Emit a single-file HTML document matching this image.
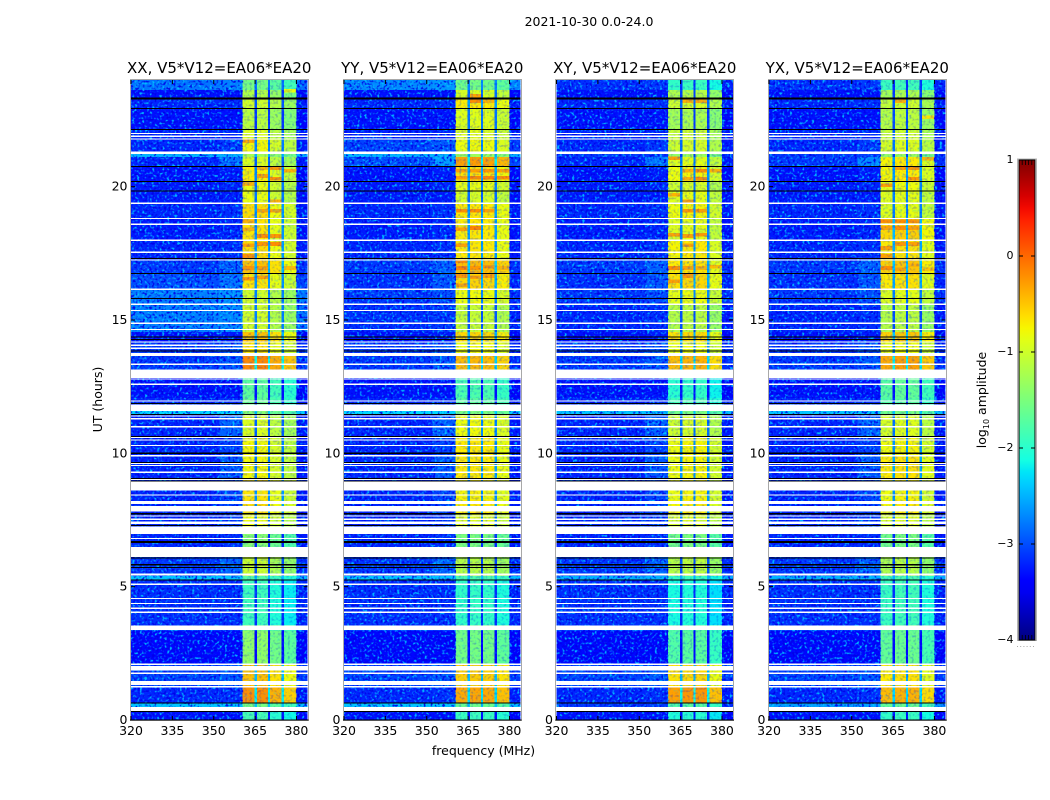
<!DOCTYPE html>
<html>
<head>
<meta charset="utf-8">
<title>2021-10-30 0.0-24.0</title>
<style>
html,body{margin:0;padding:0;background:#fff;width:1050px;height:800px;overflow:hidden}
svg{display:block}
text{font-family:"DejaVu Sans","Liberation Sans",sans-serif;fill:#000}
</style>
</head>
<body>
<svg id="chart" xmlns="http://www.w3.org/2000/svg" width="1050" height="800" viewBox="0 0 1050 800">
  <defs>
    <filter id="speckle-light" x="0" y="0" width="1" height="1">
      <feTurbulence type="fractalNoise" baseFrequency="0.4" numOctaves="1" seed="4"/>
      <feColorMatrix type="matrix" values="0 0 0 0 0  0 0 0 0 0.55  0 0 0 0 1  3.4 3.4 0 0 -3.5"/>
    </filter>
    <filter id="speckle-dark" x="0" y="0" width="1" height="1">
      <feTurbulence type="fractalNoise" baseFrequency="0.42" numOctaves="1" seed="11"/>
      <feColorMatrix type="matrix" values="0 0 0 0 0  0 0 0 0 0  0 0 0 0 0.8  3.4 3.4 0 0 -3.4"/>
    </filter>
    <linearGradient id="jet-gradient" x1="0" y1="1" x2="0" y2="0"></linearGradient>
  </defs>
  <text x="589" y="26" font-size="12.5" text-anchor="middle">2021-10-30 0.0-24.0</text>
  <text x="483.5" y="755" font-size="12.5" text-anchor="middle">frequency (MHz)</text>
  <text x="0" y="0" font-size="12.5" text-anchor="middle" transform="translate(102,399.5) rotate(-90)">UT (hours)</text>
  <g id="panels"></g>
  <g id="colorbar"></g>
</svg>
<script>
// ---- data: scan time segments (UT hours) ----
const hourEdges = [0,.34,.49,.64,1.28,2.10,3.34,3.56,5.25,5.40,6.11,6.98,7.73,8.25,9.00,9.94,10.61,11.48,11.59,12.08,13.13,13.65,14.18,14.55,15.60,16.16,16.76,17.25,18.00,18.83,19.39,19.84,20.21,20.78,21.11,21.26,21.79,22.13,22.95,23.29,23.63,24];

// ---- data: log10 amplitude inside the 360-380 MHz band, one per segment ----
const bandXX = [-1.9,-1.6,-1.6,-0.3,-0.55,-1.45,-1.6,-1.95,-1.8,-1.1,-1.5,-0.9,-0.7,-0.75,-0.85,-0.85,-1.0,-1.5,-1.7,-1.75,-0.25,-0.75,-0.55,-1.05,-1.05,-0.75,-0.55,-0.7,-0.75,-0.7,-0.9,-0.9,-0.8,-1.0,-1.3,-0.85,-1.0,-1.2,-1.05,-1.25,-1.6];
const bandYY = [-1.9,-1.6,-1.6,-0.35,-0.55,-1.55,-1.6,-1.95,-1.8,-1.15,-1.5,-0.9,-0.7,-0.75,-0.7,-0.7,-0.8,-1.5,-1.7,-1.8,-0.45,-0.8,-0.6,-1.05,-0.8,-0.6,-0.45,-0.7,-0.7,-0.7,-0.95,-0.85,-0.65,-0.3,-1.3,-0.8,-0.9,-0.9,-0.7,-0.95,-1.55];
const bandXY = [-2.0,-1.7,-1.7,-0.25,-0.6,-1.7,-1.7,-2.05,-1.9,-1.1,-1.5,-0.9,-0.7,-0.75,-0.75,-0.75,-0.95,-1.5,-1.8,-1.95,-0.4,-0.8,-0.6,-1.1,-0.8,-0.6,-0.65,-0.7,-0.85,-0.75,-0.85,-0.95,-0.75,-0.85,-1.3,-0.95,-1.0,-1.2,-0.95,-1.15,-1.9];
const bandYX = [-1.9,-1.6,-1.6,-0.4,-0.65,-1.6,-1.6,-1.85,-1.8,-1.15,-1.5,-0.9,-0.7,-0.75,-0.65,-0.75,-0.9,-1.5,-1.7,-1.65,-0.3,-0.8,-0.5,-1.1,-0.85,-0.65,-0.5,-0.65,-0.55,-0.85,-0.85,-0.8,-0.7,-0.7,-1.3,-0.9,-1.0,-1.1,-1.0,-1.2,-1.85];

// ---- data: log10 amplitude outside the band, one per segment ----
const backgroundXX = [-3.3,-3.1,-2.4,-3.2,-3.05,-3.35,-3.1,-3.15,-2.4,-3.1,-3.2,-3.2,-3.2,-3.2,-3.2,-3.2,-3.2,-2.3,-3.2,-3.3,-3.1,-3.1,-3.3,-2.75,-2.75,-3.0,-3.1,-3.2,-3.25,-3.2,-3.25,-3.25,-3.3,-3.2,-2.5,-3.2,-3.2,-3.3,-3.2,-3.3,-2.8];
const backgroundYY = [-3.3,-3.1,-2.4,-3.2,-3.05,-3.35,-3.1,-3.15,-2.4,-3.1,-3.2,-3.2,-3.2,-3.2,-3.2,-3.2,-3.2,-2.3,-3.2,-3.3,-3.1,-3.1,-3.3,-3.15,-3.1,-3.15,-3.1,-3.2,-3.25,-3.2,-3.25,-3.25,-3.3,-3.0,-2.5,-3.05,-3.2,-3.3,-3.2,-3.3,-2.7];
const backgroundXY = [-3.3,-3.1,-3.1,-3.2,-3.05,-3.35,-3.1,-3.15,-2.5,-3.1,-3.2,-3.2,-3.2,-3.2,-3.2,-3.2,-3.2,-2.4,-3.2,-3.3,-3.1,-3.1,-3.3,-3.2,-3.1,-3.15,-3.1,-3.2,-3.25,-3.2,-3.25,-3.25,-3.3,-3.2,-3.1,-3.2,-3.2,-3.3,-3.2,-3.3,-3.15];
const backgroundYX = [-3.3,-3.1,-2.6,-3.2,-3.05,-3.35,-3.1,-3.15,-2.5,-3.1,-3.2,-3.2,-3.2,-3.2,-3.2,-3.2,-3.2,-2.4,-3.2,-3.3,-3.1,-3.1,-3.3,-3.2,-3.1,-3.15,-3.1,-3.2,-3.25,-3.2,-3.25,-3.25,-3.3,-3.1,-3.1,-3.2,-3.2,-3.3,-3.2,-3.3,-3.15];

// ---- data: extra brightness just below the band (352-360 MHz), one per segment ----
const tailOffset = [0,0,0,.05,.1,0,0,0,0,.2,.05,.1,.15,.15,.25,.15,.3,0,.05,0,.15,.15,.05,.05,.1,.2,.2,.05,.05,.05,0,.05,.05,.4,0,.1,0,0,.05,0,.05];

// ---- data: per sub-band amplitude offsets ----
const subbandOffsetXX = [.08,.08,-.1,-.25];
const subbandOffsetYY = [0,.02,0,-.12];
const subbandOffsetXY = [-.05,0,0,-.22];
const subbandOffsetYX = [-.05,0,0,-.22];

// ---- data: bright streaks inside the sub-bands (panel, sub-band, UT hour, log10 amplitude) ----
const streakPanels = [0,0,0,0,0,0,0,0,0,0,0,0,0,0,0,0,0,0,0,0,0,0,0,0,
  1,1,1,1,1,1,1,1,1,1,1,1,1,1,1,1,1,1,1,1,1,1,1,1,1,1,
  2,2,2,2,2,2,2,2,2,2,2,2,2,2,2,2,2,2,2,2,2,2,
  3,3,3,3,3,3,3,3,3,3,3,3,3,3,3,3,3,3,3,3,3];
const streakSubbands = [0,0,0,0,0,0,0,0,1,1,1,1,1,1,1,2,2,2,2,2,2,3,3,3,
  0,0,0,0,0,0,0,0,0,1,1,1,1,1,1,1,1,2,2,2,2,2,2,3,3,3,
  0,0,0,0,0,1,1,1,1,1,1,1,1,1,2,2,2,2,2,2,3,
  3,
  0,0,0,0,0,0,1,1,1,1,1,1,2,2,2,2,2,2,3,3,3];
const streakHours = [21.7,20.1,18.7,18.4,17.8,17.4,16.95,16.55,20.7,20.4,19.1,18.15,17.85,16.95,16.6,20.7,20.3,19.45,19.1,18.15,17.85,20.6,23.6,16.95,
  20.6,20.33,19.1,18.4,17.8,16.95,17.2,16.65,16.3,23.4,23.2,20.33,20.6,19.1,18.45,16.95,16.6,23.2,20.6,20.33,19.1,17.0,16.65,20.6,20.33,16.95,
  21.07,19.7,18.2,16.95,16.45,23.2,20.6,20.3,19.1,19.45,18.15,17.8,16.95,16.65,23.2,20.6,20.3,19.1,18.2,16.95,20.6,
  17.0,
  20.05,18.7,18.45,17.7,17.4,16.95,23.2,20.7,18.7,18.45,17.85,16.9,20.7,20.3,18.7,18.45,17.85,17.05,21.05,22.6,16.9];
const streakLevels = [-.35,-.4,-.4,-.4,-.3,-.2,-.25,-.25,-.4,-.3,-.3,-.2,-.25,-.3,-.3,-.25,-.25,-.4,-.3,-.25,-.2,-.4,-.8,-.45,
  -.3,-.3,-.2,-.3,-.3,-.15,-.2,-.25,-.3,-.3,-.2,-.15,-.3,-.2,-.15,-.25,-.3,-.4,-.25,-.15,-.3,-.25,-.3,-.3,-.2,-.4,
  -.3,-.4,-.3,-.2,-.3,-.4,-.4,-.4,-.25,-.3,-.3,-.3,-.3,-.25,-.35,-.2,-.2,-.3,-.25,-.4,-.4,
  -.45,
  -.3,-.2,-.3,-.3,-.3,-.2,-.4,-.3,-.2,-.2,-.25,-.3,-.25,-.25,-.25,-.3,-.3,-.4,-.4,-.65,-.5];

// ---- data: frequency channels (MHz) ----
const channelEdges = [320,352,360.5,364.8,365.6,369.6,370.4,374.6,375.4,380,384];
const channelKinds = ['background','tail','subband0','notch','subband1','notch','subband2','notch','subband3','guard'];

// ---- data: flagged scans (UT hours) ----
const flaggedLines = [21.99,21.89,21.79,19.38,18.81,18.59,17.99,17.54,17.25,16.15,15.59,15.36,14.88,14.64,14.18,14.05,13.94,13.34,12.79,12.59,11.96,11.40,11.30,11.00,10.59,10.50,10.29,9.91,9.63,9.54,9.29,9.03,8.44,7.65,7.53,6.81,5.09,4.56,4.37,4.19,4.04,2.09,1.75,1.25];
const flaggedBlockStarts = [21.22,13.65,12.83,11.59,8.60,8.10,7.81,7.35,6.98,6.12,5.41,3.38,1.85,1.31,.34];
const flaggedBlockEnds = [21.31,13.77,13.14,11.84,8.94,8.21,8.03,7.44,7.25,6.48,5.50,3.55,2.03,1.47,.49];
const blackLines = [22.94,22.14,20.76,20.19,19.83,17.30,16.75,15.81,14.37,14.26,13.83,11.86,11.45,10.64,9.66,9.06,8.96,7.29,6.08,5.71,5.25,.63,.31];
const blackBandStarts = [23.26,9.98,7.70,6.64,5.79];
const blackBandEnds = [23.34,10.04,7.77,6.72,5.85];

// ---- data: panels and ticks ----
const panelTitles = ['XX, V5*V12=EA06*EA20','YY, V5*V12=EA06*EA20','XY, V5*V12=EA06*EA20','YX, V5*V12=EA06*EA20'];
const panelBands = [bandXX,bandYY,bandXY,bandYX];
const panelBackgrounds = [backgroundXX,backgroundYY,backgroundXY,backgroundYX];
const panelSubbands = [subbandOffsetXX,subbandOffsetYY,subbandOffsetXY,subbandOffsetYX];
const xTickValues = [320,335,350,365,380];
const yTickValues = [0,5,10,15,20];
const colorbarTicks = [1,0,-1,-2,-3,-4];
const colorbarTickLabels = ['1','0','\u22121','\u22122','\u22123','\u22124'];
const colorbarMinorFractions = [.2,.4,.6,.8];

// ---- data: jet colormap control points ----
const jetRedAt = [0,.35,.66,.89,1];
const jetRedIs = [0,0,1,1,.5];
const jetGreenAt = [0,.125,.375,.64,.91,1];
const jetGreenIs = [0,0,1,1,0,0];
const jetBlueAt = [0,.11,.34,.65,1];
const jetBlueIs = [.5,1,1,0,0];

const SVGNS = 'http://www.w3.org/2000/svg';
const PANEL_LEFTS = [131,344,556.5,769];
const PANEL_WIDTH = 176.5;
const PLOT_TOP = 80, PLOT_BOTTOM = 720;
const FREQ_MIN = 320, FREQ_MAX = 384, HOUR_MAX = 24;
const LOG_MIN = -4, LOG_MAX = 1;
const CB_X = 1019, CB_W = 16, CB_TOP = 160, CB_BOTTOM = 640;
const STREAK_HALF_HOURS = 0.07;

function mk(tag, attrs, parent){
  const el = document.createElementNS(SVGNS, tag);
  for (const k in attrs) el.setAttribute(k, attrs[k]);
  parent.appendChild(el);
  return el;
}
function xScale(panel, f){ return PANEL_LEFTS[panel] + (f - FREQ_MIN) / (FREQ_MAX - FREQ_MIN) * PANEL_WIDTH; }
function yScale(h){ return PLOT_BOTTOM - h / HOUR_MAX * (PLOT_BOTTOM - PLOT_TOP); }
function cbScale(v){ return CB_BOTTOM - (v - LOG_MIN) / (LOG_MAX - LOG_MIN) * (CB_BOTTOM - CB_TOP); }
function lerpTable(xs, ys, t){
  for (let i = 1; i < xs.length; i++) if (t <= xs[i]) return ys[i-1] + (ys[i]-ys[i-1]) * (t-xs[i-1]) / (xs[i]-xs[i-1]);
  return ys[ys.length-1];
}
function jet(t){
  t = Math.max(0, Math.min(1, t));
  const c = a => Math.round(a * 255);
  return 'rgb(' + c(lerpTable(jetRedAt,jetRedIs,t)) + ',' + c(lerpTable(jetGreenAt,jetGreenIs,t)) + ',' + c(lerpTable(jetBlueAt,jetBlueIs,t)) + ')';
}
function colorOf(v){ return jet((v - LOG_MIN) / (LOG_MAX - LOG_MIN)); }

function cellValue(kind, panel, seg){
  const band = panelBands[panel][seg], bg = panelBackgrounds[panel][seg];
  if (kind === 'background') return bg;
  if (kind === 'tail') return bg + tailOffset[seg];
  if (kind === 'guard') return bg - 0.05;
  if (kind === 'notch') return Math.max(bg, band - 1.9);
  return band + panelSubbands[panel][+kind.slice(-1)];
}

const panelsRoot = document.getElementById('panels');
panelTitles.forEach(function(title, p){
  const g = mk('g', {}, panelsRoot);
  
  

  const cells = mk('g', {'shape-rendering':'crispEdges'}, g);
  
  
  for (let s = 0; s < hourEdges.length - 1; s++){
    for (let c = 0; c < channelKinds.length; c++){
      const x0 = xScale(p, channelEdges[c]), x1 = xScale(p, channelEdges[c+1]);
      const y0 = yScale(hourEdges[s+1]), y1 = yScale(hourEdges[s]);
      const rect = mk('rect', {x:x0, y:y0, width:x1-x0, height:y1-y0, fill:colorOf(cellValue(channelKinds[c], p, s))}, cells);
      
      
    }
  }

  // sub-band streaks
  const subbandStarts = [channelEdges[2], channelEdges[4], channelEdges[6], channelEdges[8]];
  const subbandEnds = [channelEdges[3], channelEdges[5], channelEdges[7], channelEdges[9]];
  streakHours.forEach(function(h, i){
    if (streakPanels[i] !== p) return;
    const sb = streakSubbands[i];
    const x0 = xScale(p, subbandStarts[sb]), x1 = xScale(p, subbandEnds[sb]);
    const streak = mk('rect', {x:x0, y:yScale(h + STREAK_HALF_HOURS), width:x1-x0, height:yScale(h - STREAK_HALF_HOURS)-yScale(h + STREAK_HALF_HOURS), fill:colorOf(streakLevels[i]), 'shape-rendering':'crispEdges'}, cells);
    
    
  });

  // receiver-noise texture on top of the cells
  const texture = mk('g', {}, g);
  
  
  const noiseRanges = [[FREQ_MIN, channelEdges[2], .9], [channelEdges[2], channelEdges[9], .22], [channelEdges[9], FREQ_MAX, .9]];
  noiseRanges.forEach(function(r){
    mk('rect', {x:xScale(p,r[0]), y:PLOT_TOP, width:xScale(p,r[1])-xScale(p,r[0]), height:PLOT_BOTTOM-PLOT_TOP, filter:'url(#speckle-light)', opacity:r[2]}, texture);
    mk('rect', {x:xScale(p,r[0]), y:PLOT_TOP, width:xScale(p,r[1])-xScale(p,r[0]), height:PLOT_BOTTOM-PLOT_TOP, filter:'url(#speckle-dark)', opacity:r[2]}, texture);
  });

  const flags = mk('g', {'shape-rendering':'crispEdges'}, g);
  
  
  const xa = xScale(p, FREQ_MIN), w = PANEL_WIDTH;
  flaggedLines.forEach(function(h){
    const r = mk('rect', {x:xa, y:yScale(h)-.6, width:w, height:1.2, fill:'#fff'}, flags);
    
    
  });
  flaggedBlockStarts.forEach(function(h, i){
    const r = mk('rect', {x:xa, y:yScale(flaggedBlockEnds[i]), width:w, height:yScale(h)-yScale(flaggedBlockEnds[i]), fill:'#fff'}, flags);
    
    
  });
  blackLines.forEach(function(h){
    const r = mk('rect', {x:xa, y:yScale(h)-.5, width:w, height:1, fill:'#000'}, flags);
    
    
  });
  blackBandStarts.forEach(function(h, i){
    const r = mk('rect', {x:xa, y:yScale(blackBandEnds[i]), width:w, height:yScale(h)-yScale(blackBandEnds[i]), fill:'#000'}, flags);
    
    
  });

  const frame = mk('rect', {x:Math.floor(xa)-.5, y:PLOT_TOP-.5, width:Math.round(w)+1, height:PLOT_BOTTOM-PLOT_TOP+1, fill:'none', stroke:'#a8a8a8', 'stroke-width':1}, g);
  
  
  const base = mk('line', {x1:xa-1, x2:xa+w+1, y1:PLOT_BOTTOM, y2:PLOT_BOTTOM, stroke:'#000', 'stroke-width':1}, g);
  
  

  xTickValues.forEach(function(v){
    const x = xScale(p, v);
    const t1 = mk('line', {x1:x, x2:x, y1:PLOT_TOP, y2:PLOT_TOP+4, stroke:'#000', 'stroke-width':1}, g);
    
    
    const t2 = mk('line', {x1:x, x2:x, y1:PLOT_BOTTOM-4, y2:PLOT_BOTTOM, stroke:'#000', 'stroke-width':1}, g);
    
    
    const lab = mk('text', {x:x, y:PLOT_BOTTOM+15, 'font-size':12.5, 'text-anchor':'middle'}, g);
    lab.textContent = String(v);
    
    
  });
  yTickValues.forEach(function(v){
    const y = yScale(v);
    const t1 = mk('line', {x1:xa, x2:xa+4, y1:y, y2:y, stroke:'#000', 'stroke-width':1}, g);
    
    
    const t2 = mk('line', {x1:xa+w-4, x2:xa+w, y1:y, y2:y, stroke:'#000', 'stroke-width':1}, g);
    
    
    const lab = mk('text', {x:xa-3.5, y:y+4, 'font-size':12.5, 'text-anchor':'end'}, g);
    lab.textContent = String(v);
    
    
  });

  const ttl = mk('text', {x:xa+w/2, y:PLOT_TOP-7, 'font-size':15, 'text-anchor':'middle'}, g);
  ttl.textContent = title;
  
  
});

// colorbar
const grad = document.getElementById('jet-gradient');
for (let i = 0; i <= 40; i++){
  mk('stop', {offset:(i/40), 'stop-color':jet(i/40)}, grad);
}
const cb = document.getElementById('colorbar');
const outer = mk('rect', {x:CB_X-1.5, y:CB_TOP-1, width:CB_W+3, height:CB_BOTTOM-CB_TOP+1.5, fill:'none', stroke:'#b4b4b4', 'stroke-width':1}, cb);


const ramp = mk('rect', {x:CB_X, y:CB_TOP, width:CB_W, height:CB_BOTTOM-CB_TOP, fill:'url(#jet-gradient)', stroke:'#000', 'stroke-width':1}, cb);


colorbarTicks.forEach(function(v, i){
  const y = cbScale(v);
  const t1 = mk('line', {x1:CB_X, x2:CB_X+4, y1:y, y2:y, stroke:'#000', 'stroke-width':1}, cb);
  
  
  const t2 = mk('line', {x1:CB_X+CB_W-4, x2:CB_X+CB_W, y1:y, y2:y, stroke:'#000', 'stroke-width':1}, cb);
  
  
  const lab = mk('text', {x:CB_X-5.5, y:y+3, 'font-size':11, 'text-anchor':'end'}, cb);
  lab.textContent = colorbarTickLabels[i];
  
  
});
colorbarMinorFractions.forEach(function(f){
  const x = CB_X + f * CB_W;
  const t1 = mk('line', {x1:x, x2:x, y1:CB_TOP, y2:CB_TOP+5, stroke:'#000', 'stroke-width':.8}, cb);
  
  
  const t2 = mk('line', {x1:x, x2:x, y1:CB_BOTTOM-5, y2:CB_BOTTOM, stroke:'#000', 'stroke-width':.8}, cb);
  
  
});
const dots = mk('line', {x1:CB_X-2, x2:CB_X+CB_W, y1:646.5, y2:646.5, stroke:'#aaa', 'stroke-width':1, 'stroke-dasharray':'1 2.2'}, cb);



const cbTitle = mk('text', {x:0, y:0, 'font-size':12.5, 'text-anchor':'middle', transform:'translate(986,400) rotate(-90)'}, cb);


cbTitle.appendChild(document.createTextNode('log'));
const sub = mk('tspan', {'font-size':8, dy:3}, cbTitle);
sub.textContent = '10';
const rest = mk('tspan', {dy:-3}, cbTitle);
rest.textContent = ' amplitude';
</script>
</body>
</html>
